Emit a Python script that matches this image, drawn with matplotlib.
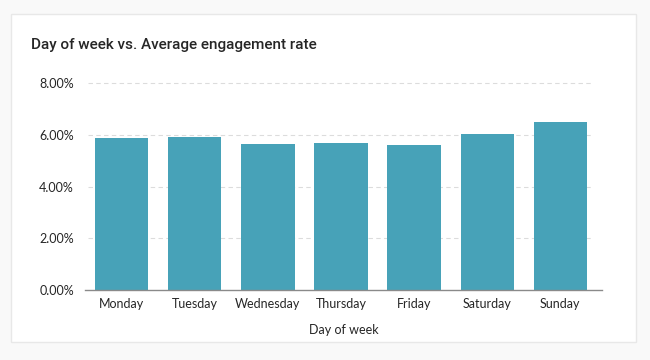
import matplotlib
matplotlib.use("Agg")
import matplotlib.pyplot as plt
from matplotlib.patches import Rectangle
from matplotlib.ticker import FuncFormatter

# data
days = ["Monday", "Tuesday", "Wednesday", "Thursday", "Friday", "Saturday", "Sunday"]
engagement = [5.88, 5.92, 5.64, 5.69, 5.60, 6.03, 6.50]  # percent
y_ticks = [0, 2, 4, 6, 8]

plt.rcParams["font.family"] = ["Lato", "DejaVu Sans"]
text_color = "#262626"
bar_color = "#47a2b8"

fig = plt.figure(figsize=(6.5, 3.6), dpi=100)
fig.patch.set_facecolor("#f9f9f9")

# white card behind the chart
card = Rectangle((11 / 650, 1 - 342 / 360), 625 / 650, 328 / 360,
                 transform=fig.transFigure, facecolor="white",
                 edgecolor="#e8e8e8", linewidth=1, zorder=-5)
fig.patches.append(card)

ax = fig.add_axes([85 / 650, 1 - 290 / 360, 517 / 650, 207 / 360])
ax.set_facecolor("none")
ax.set_zorder(2)

x = range(len(days))
ax.bar(x, engagement, width=0.73, color=bar_color, zorder=3)

ax.set_xlim(-0.5, 6.57)
ax.set_ylim(0, 8)
ax.set_yticks(y_ticks)
ax.yaxis.set_major_formatter(FuncFormatter(lambda v, p: "{:.2f}%".format(v)))
ax.set_xticks(list(x))
ax.set_xticklabels(days)

for y in y_ticks[1:]:
    ax.axhline(y, xmin=0.006, xmax=0.98, color="#dcdcdc", linestyle=(0, (4, 3)),
               linewidth=0.8, zorder=1, clip_on=False)

for s in ["top", "right", "left"]:
    ax.spines[s].set_visible(False)
ax.spines["bottom"].set_color("#8a8a8a")
ax.spines["bottom"].set_linewidth(1)
ax.spines["bottom"].set_zorder(4)

ax.tick_params(axis="both", length=0, labelsize=9, colors=text_color)
ax.tick_params(axis="y", pad=8)
ax.tick_params(axis="x", pad=6)

ax.set_xlabel("Day of week", fontsize=9, color=text_color, labelpad=10)

fig.text(31 / 650, 1 - 45 / 360, "Day of week vs. Average engagement rate",
         fontsize=11, color=text_color, va="center", ha="left",
         family=["Roboto", "DejaVu Sans"], weight="medium")

fig.savefig("out.png", dpi=100, facecolor=fig.get_facecolor())
